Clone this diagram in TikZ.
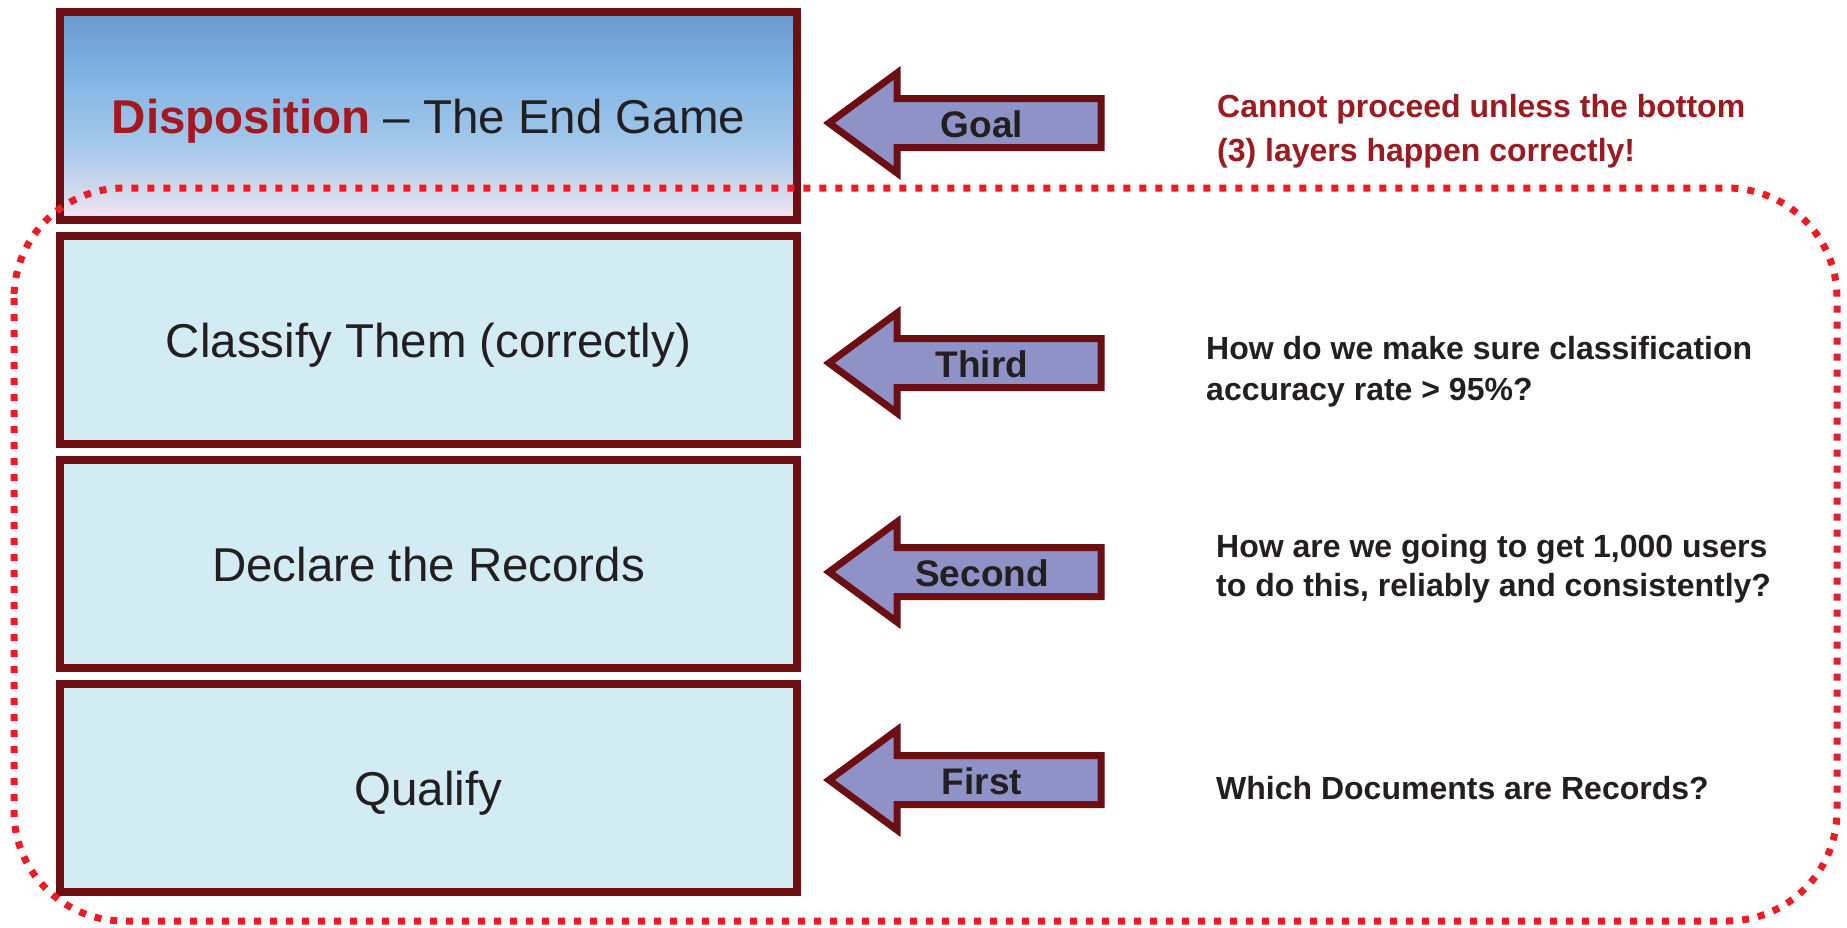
\documentclass[tikz,border=0pt]{standalone}
\usepackage{fontspec}
\setmainfont{Liberation Sans}

\definecolor{frame}{HTML}{6D0E12}
\definecolor{layerfill}{HTML}{D3EBF2}
\definecolor{arrowfill}{HTML}{8F92C6}
\definecolor{ink}{HTML}{231F20}
\definecolor{alert}{HTML}{A3191F}
\definecolor{notered}{HTML}{9B1B20}
\definecolor{dotred}{HTML}{ED1C24}
\definecolor{gtop}{RGB}{106,151,206}
\definecolor{gA}{RGB}{128,180,228}
\definecolor{gB}{RGB}{160,198,234}
\definecolor{gC}{RGB}{205,216,237}
\definecolor{gbot}{RGB}{245,230,241}

% sky-to-blush fill of the top layer (0bp = bottom)
\pgfdeclareverticalshading{endgame}{100bp}{%
  color(0bp)=(gbot); color(25bp)=(gbot); color(33bp)=(gC);
  color(45bp)=(gB); color(60bp)=(gA); color(75bp)=(gtop); color(100bp)=(gtop)}

\begin{document}
\begin{tikzpicture}[x=1pt,y=-1pt,
  layer/.style={draw=frame, line width=8pt, fill=layerfill,
    minimum width=737pt, minimum height=208pt, inner sep=0pt,
    text height=34pt, text depth=0pt,
    text=ink, font=\fontsize{47.5}{57}\selectfont},
  blockarrow/.style={draw=frame, fill=arrowfill, line width=7pt, line join=miter},
  arrowlabel/.style={anchor=base, inner sep=0pt, text=ink,
    font=\fontsize{37}{44}\selectfont\bfseries},
  note/.style={anchor=base west, align=left, inner sep=0pt, text=ink,
    font=\fontsize{32}{39}\selectfont\bfseries},
  scopeline/.style={draw=dotred, line width=7pt, dash pattern=on 7pt off 9pt,
    rounded corners=110pt}]
\useasboundingbox (0,0) rectangle (1847,927);

% the four layers, bottom one first in the process
\node[layer, shade, shading=endgame] (dispo) at (428.5,116)
  {{\bfseries\color{alert}Disposition} \textendash{} The End Game};
\node[layer] (classify) at (428.5,340) {Classify Them (correctly)};
\node[layer] (declare)  at (428.5,564) {Declare the Records};
\node[layer] (qualify)  at (428.5,788) {Qualify};

% block arrows pointing back at the layers
\foreach \c/\lab/\nm in {123/Goal/goal, 363/Third/third, 572/Second/second, 780/First/first}{
  \draw[blockarrow] (829,\c) -- (897,\c-50) -- (897,\c-24.5) -- (1101,\c-24.5)
    -- (1101,\c+24.5) -- (897,\c+24.5) -- (897,\c+50) -- cycle;
  \node[arrowlabel] (\nm-tag) at (982,\c+14) {\lab};
}

% questions beside each step (anchored on the baseline of the last line)
\node[note, text=notered, font=\fontsize{32}{44}\selectfont\bfseries] (n-goal) at (1217,161)
  {Cannot proceed unless the bottom\\(3) layers happen correctly!};
\node[note, font=\fontsize{32}{41}\selectfont\bfseries] (n-third) at (1206,400)
  {How do we make sure classification\\accuracy rate > 95\%?};
\node[note] (n-second) at (1216,596)
  {How are we going to get 1,000 users\\to do this, reliably and consistently?};
\node[note] (n-first)  at (1216,799) {Which Documents are Records?};

% dotted outline round the three bottom layers
\draw[scopeline] (14,188) rectangle (1837,921);
\end{tikzpicture}
\end{document}
